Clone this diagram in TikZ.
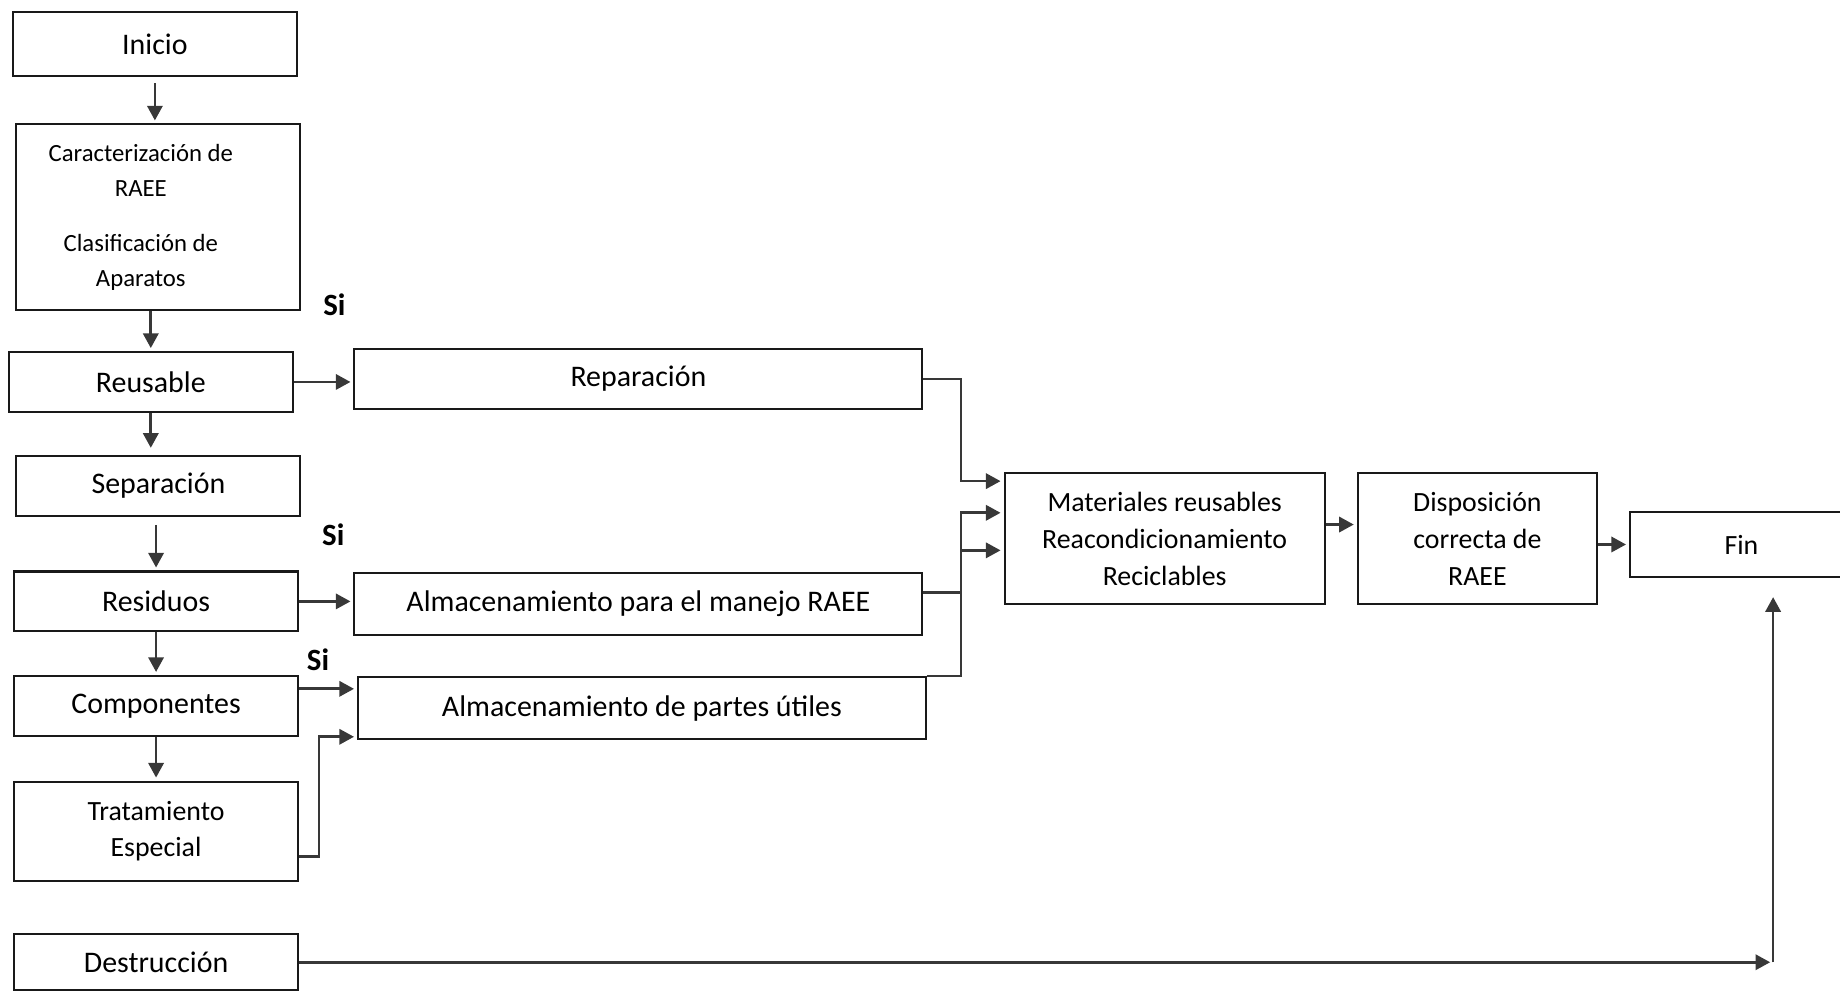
\documentclass[tikz,border=0pt]{standalone}
\usepackage{fontspec}
\setmainfont{Carlito}
\usetikzlibrary{arrows.meta,positioning,calc}

\begin{document}
\begin{tikzpicture}[x=0.02cm, y=-0.02cm, every node/.style={align=center}]
\tikzset{
  box/.style={draw=black!90, line width=1pt, minimum width=4.84cm, minimum height=1.02cm, inner sep=2pt, font=\fontsize{14.5}{17.5}\selectfont},
  wide/.style={box, minimum width=9.68cm},
  tall/.style={box, minimum height=2.24cm, font=\fontsize{13.5}{18}\selectfont},
  arr/.style={draw=black!78, line width=1.3pt, -{Triangle[length=2.5mm,width=2.6mm]}, shorten >=0.5mm},
  line/.style={draw=black!78, line width=1.3pt},
  yes/.style={font=\fontsize{15}{18}\selectfont\bfseries}
}
\useasboundingbox (0,0) rectangle (1568,844);

% columna izquierda
\node[box, minimum height=1.1cm] (inicio) at (132,37.5) {Inicio};
\node[box, minimum height=3.16cm, font=\fontsize{12}{17}\selectfont] (carac) at (135,185)
  {\hspace*{-3mm}\begin{tabular}{@{}c@{}}Caracterización de\\RAEE\\[10pt]Clasificación de\\Aparatos\end{tabular}\hspace*{3mm}};
\node[box] (reusable) at (128.5,325.5) {Reusable};
\node[box] (separacion) at (135,414) {Separación};
\node[box] (residuos) at (133,512.5) {Residuos};
\node[box] (componentes) at (133,601.5) {Componentes};
\node[box, minimum height=1.7cm, font=\fontsize{13.5}{17.6}\selectfont] (tratamiento) at (133,708.5) {Tratamiento\\Especial};
\node[box, minimum height=0.96cm] (destruccion) at (133,820) {Destrucción};

% almacenamiento
\node[wide] (reparacion) at (544,323) {Reparación};
\node[wide, minimum height=1.06cm] (almraee) at (544,514.5) {Almacenamiento para el manejo RAEE};
\node[wide, minimum height=1.06cm] (almpartes) at (547,603.5) {Almacenamiento de partes útiles};

% salida
\node[tall, minimum width=5.46cm] (materiales) at (992.5,459) {Materiales reusables\\Reacondicionamiento\\Reciclables};
\node[tall, minimum width=4.08cm] (disposicion) at (1259,459) {Disposición\\correcta de\\RAEE};
\node[box, minimum width=3.8cm, minimum height=1.12cm, font=\fontsize{13.5}{16}\selectfont] (fin) at (1484,464) {Fin};

\node[yes] (si1) at (285,260) {Si};
\node[yes] (si2) at (284,456) {Si};
\node[yes] (si3) at (271,562) {Si};

% flechas verticales
\draw[arr, shorten <=1mm] (inicio.south) -- (inicio.south |- carac.north);
\draw[arr] (reusable.north |- carac.south) -- (reusable.north);
\draw[arr, shorten >=1.2mm] (reusable.south) -- (reusable.south |- separacion.north);
\draw[arr, shorten <=1.4mm] (residuos.north |- separacion.south) -- (residuos.north);
\draw[arr] (residuos.south) -- (componentes.north);
\draw[arr] (componentes.south) -- (tratamiento.north);

% flechas horizontales
\draw[arr] (reusable.east) -- (reusable.east -| reparacion.west);
\draw[arr] (residuos.east) -- (residuos.east -| almraee.west);
\draw[arr] ([yshift=2.9mm]componentes.east) -- ([yshift=2.9mm]componentes.east -| almpartes.west);
\draw[arr] ([yshift=-4.3mm]tratamiento.east) -- ++(17,0) |- ([yshift=0.6mm]almpartes.south west);

% union hacia materiales
\coordinate (bus) at (819,0);
\coordinate (inR) at ([yshift=9.8mm]materiales.west);
\coordinate (inA) at ([yshift=4.4mm]materiales.west);
\coordinate (inB) at ([yshift=-2mm]materiales.west);
\coordinate (raeeout) at ([yshift=1.9mm]almraee.east);
\draw[arr] (reparacion.east) -| (bus |- inR) -- (inR);
\draw[arr] (raeeout) -| (bus |- inA) -- (inA);
\draw[arr] (bus |- inB) -- (inB);
\draw[line] (almpartes.north east) -| (bus |- raeeout);

\draw[arr] ([yshift=2.4mm]materiales.east) -- ([yshift=2.4mm]materiales.east -| disposicion.west);
\draw[arr] (disposicion.east |- fin.west) -- (fin.west);

% destruccion
\coordinate (corner) at ($(fin.south |- destruccion.east)+(27,0)$);
\draw[arr] (destruccion.east) -- (corner);
\draw[arr, shorten >=3.2mm] (corner) -- (corner |- fin.south);
\end{tikzpicture}
\end{document}
